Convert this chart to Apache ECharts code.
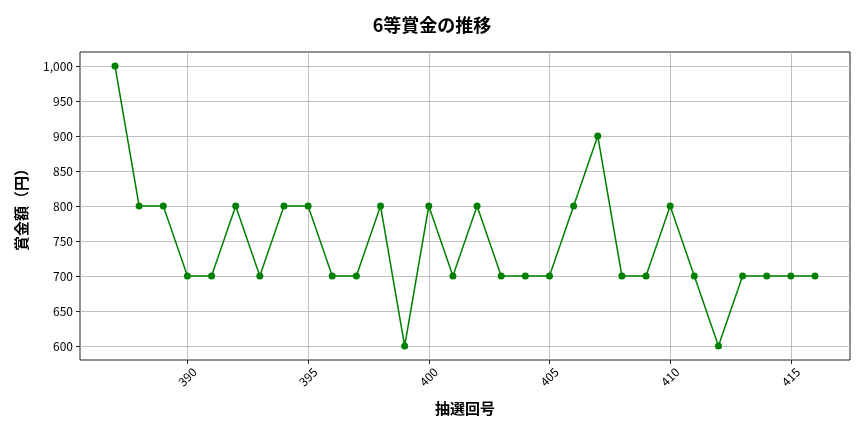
<!DOCTYPE html>
<html>
<head>
<meta charset="utf-8">
<script src="https://cdn.jsdelivr.net/npm/echarts@6/dist/echarts.min.js"></script>
<style>
  html, body { margin: 0; padding: 0; background: #fff; }
  #main { width: 864px; height: 432px; }
</style>
</head>
<body>
<div id="main"></div>
<script>
// 抽選回号
var rounds = [387, 388, 389, 390, 391, 392, 393, 394, 395, 396,
              397, 398, 399, 400, 401, 402, 403, 404, 405, 406,
              407, 408, 409, 410, 411, 412, 413, 414, 415, 416];
// 6等賞金（円）
var prizes = [1000, 800, 800, 700, 700, 800, 700, 800, 800, 700,
              700, 800, 600, 800, 700, 800, 700, 700, 700, 800,
              900, 700, 700, 800, 700, 600, 700, 700, 700, 700];
var xTicks = [390, 395, 400, 405, 410, 415];
var yTicks = [600, 650, 700, 750, 800, 850, 900, 950, 1000];

var FONT = '"Noto Sans CJK JP", "DejaVu Sans", sans-serif';

var myChart = echarts.init(document.getElementById('main'));

var points = [];
for (var i = 0; i < rounds.length; i++) {
    points.push([rounds[i], prizes[i]]);
}

option = {
    animation: false,
    backgroundColor: '#fff',
    title: {
        text: '6等賞金の推移',
        left: 'center',
        top: 11,
        textStyle: { fontFamily: FONT, fontSize: 18, fontWeight: 'bold', color: '#000' }
    },
    grid: {
        left: 80, right: 14, top: 52, bottom: 72,
        show: true,
        borderColor: '#222',
        borderWidth: 1,
        containLabel: false
    },
    xAxis: {
        type: 'value',
        min: 385.55,
        max: 417.45,
        name: '抽選回号',
        nameLocation: 'middle',
        nameGap: 41,
        nameTextStyle: { fontFamily: FONT, fontSize: 15, fontWeight: 'bold', color: '#000' },
        axisLine: { show: false },
        axisTick: { show: true, customValues: xTicks, length: 4, lineStyle: { color: '#222' } },
        axisLabel: {
            customValues: xTicks,
            rotate: 45,
            align: 'center',
            verticalAlign: 'middle',
            margin: 17,
            fontFamily: FONT, fontSize: 12, color: '#000'
        },
        splitLine: { show: true, lineStyle: { color: '#b0b0b0', width: 0.8 } }
    },
    yAxis: {
        type: 'value',
        min: 580,
        max: 1020,
        name: '賞金額（円）',
        nameLocation: 'middle',
        nameGap: 51,
        nameTextStyle: { fontFamily: FONT, fontSize: 15, fontWeight: 'bold', color: '#000' },
        axisLine: { show: false },
        axisTick: { show: true, customValues: yTicks, length: 4, lineStyle: { color: '#222' } },
        axisLabel: {
            customValues: yTicks,
            margin: 7,
            fontFamily: FONT, fontSize: 12, color: '#000',
            formatter: function (v) { return v.toLocaleString('en-US'); }
        },
        splitLine: { show: true, lineStyle: { color: '#b0b0b0', width: 0.8 } }
    },
    series: [
        {
            name: '6等賞金',
            type: 'line',
            data: points,
            color: '#008000',
            symbol: 'circle',
            symbolSize: 7,
            lineStyle: { color: '#008000', width: 1.5 },
            itemStyle: { color: '#008000' }
        }
    ]
};

myChart.setOption(option);
</script>
</body>
</html>
